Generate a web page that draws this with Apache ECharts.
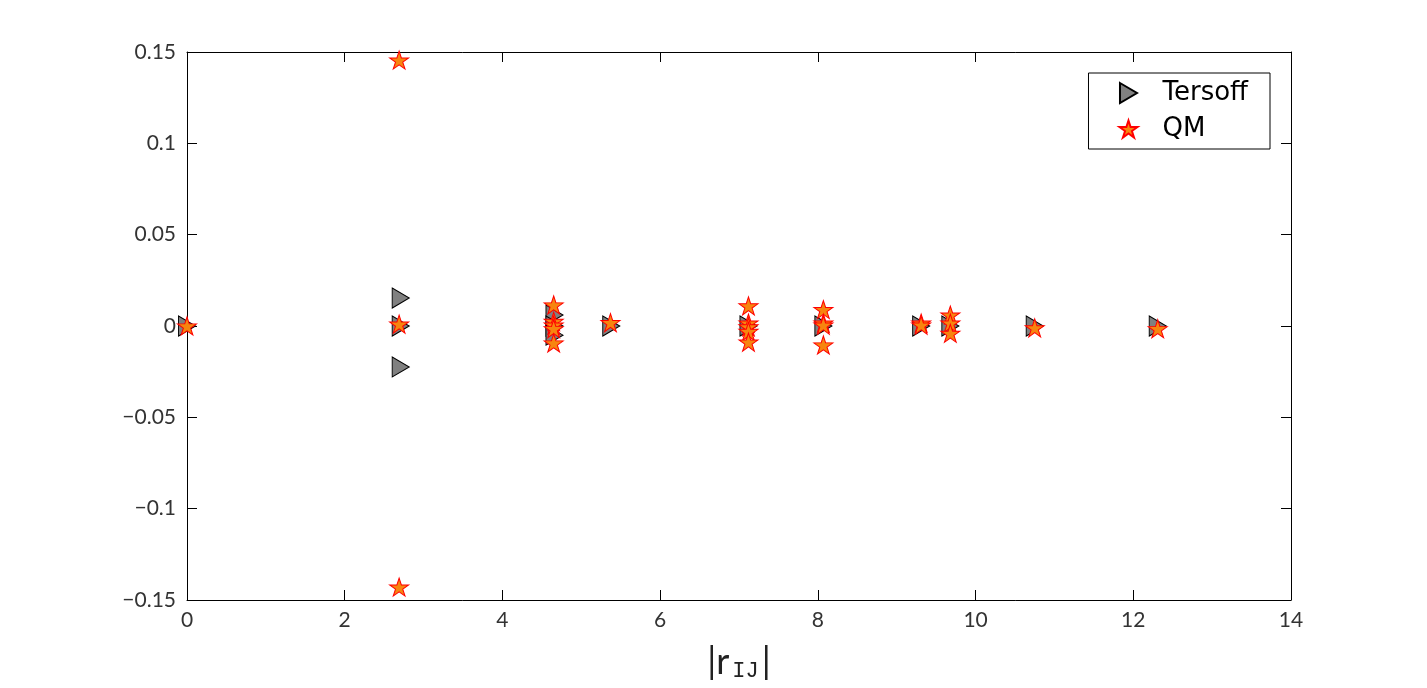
<!DOCTYPE html>
<html>
<head>
<meta charset="utf-8">
<script src="https://cdn.jsdelivr.net/npm/echarts@6/dist/echarts.min.js"></script>
<style>
  html, body { margin: 0; padding: 0; background: #fff; }
  #chart { width: 1427px; height: 688px; }
</style>
</head>
<body>
<div id="chart"></div>
<script>
// Tersoff points
var tersoffX = [0, 2.71, 2.71, 2.71, 4.66, 4.66, 4.66, 5.38, 7.12, 8.07, 9.31, 9.68, 10.75, 12.31];
var tersoffY = [0, 0.0153, 0, -0.0224, 0.006, 0, -0.005, 0, 0, 0, 0, 0, 0, 0];

// QM points
var qmX = [0, 2.69, 2.69, 2.69, 4.65, 4.65, 4.65, 4.65, 4.65, 5.37,
           7.12, 7.12, 7.12, 7.12, 7.12, 8.07, 8.07, 8.07, 8.07,
           9.31, 9.31, 9.68, 9.68, 9.68, 10.75, 12.31];
var qmY = [0, 0.1456, -0.1429, 0.001, 0.0115, 0.0025, 0.0005, -0.0015, -0.0093, 0.0018,
           0.011, 0.0016, -0.0005, -0.003, -0.0088, 0.009, 0.0016, 0.0005, -0.0104,
           0.0016, 0.0005, 0.006, 0.0016, -0.004, -0.001, -0.0015];

var triPath = 'path://M0,0L17,10L0,20Z';
var starPath = 'path://M0,-1L0.2245,-0.309L0.951,-0.309L0.363,0.118L0.588,0.809L0,0.382L-0.588,0.809L-0.363,0.118L-0.951,-0.309L-0.2245,-0.309Z';

function pairs(xs, ys) {
    var out = [];
    for (var i = 0; i < xs.length; i++) out.push([xs[i], ys[i]]);
    return out;
}

var font = 'Lato';
var chart = echarts.init(document.getElementById('chart'));

chart.setOption({
    animation: false,
    grid: { left: 187, right: 136, top: 52, bottom: 88 },
    legend: {
        orient: 'vertical',
        right: 157,
        top: 73,
        padding: [7, 22, 7, 30],
        itemGap: 10,
        itemWidth: 18,
        itemHeight: 20,
        borderColor: '#000',
        borderWidth: 1,
        textStyle: { fontFamily: 'DejaVu Sans', fontSize: 26, color: '#000', padding: [0, 0, 0, 20] },
        data: [
            { name: 'Tersoff', icon: triPath },
            { name: 'QM', icon: starPath }
        ]
    },
    xAxis: [{
        type: 'value', min: 0, max: 14, interval: 2,
        name: '{a||r}{b|IJ}{a||}',
        nameLocation: 'middle', nameGap: 42,
        nameTextStyle: {
            rich: {
                a: { fontFamily: font, fontSize: 36, color: '#222' },
                b: { fontFamily: 'Liberation Mono', fontSize: 22, color: '#222', padding: [18, 3, 0, 3] }
            }
        },
        axisLine: { onZero: false, lineStyle: { color: '#000', width: 1 } },
        axisTick: { inside: true, length: 10, lineStyle: { color: '#000' } },
        axisLabel: { fontFamily: font, fontSize: 21, color: '#333', margin: 10 },
        splitLine: { show: false }
    }, {
        type: 'value', position: 'top', min: 0, max: 14, interval: 2,
        axisLine: { show: true, onZero: false, lineStyle: { color: '#000', width: 1 } },
        axisTick: { inside: true, length: 10, lineStyle: { color: '#000' } },
        axisLabel: { show: false },
        splitLine: { show: false }
    }],
    yAxis: [{
        type: 'value', min: -0.15, max: 0.15, interval: 0.05,
        axisLine: { onZero: false, lineStyle: { color: '#000', width: 1 } },
        axisTick: { inside: true, length: 10, lineStyle: { color: '#000' } },
        axisLabel: {
            fontFamily: font, fontSize: 21, color: '#333', margin: 11,
            formatter: function (v) {
                var s = String(+v.toFixed(2));
                return s.replace('-', '\u2212');
            }
        },
        splitLine: { show: false }
    }, {
        type: 'value', position: 'right', min: -0.15, max: 0.15, interval: 0.05,
        axisLine: { show: true, onZero: false, lineStyle: { color: '#000', width: 1 } },
        axisTick: { inside: true, length: 10, lineStyle: { color: '#000' } },
        axisLabel: { show: false },
        splitLine: { show: false }
    }],
    series: [{
        name: 'Tersoff',
        type: 'scatter',
        symbol: triPath,
        symbolSize: [17, 20],
        itemStyle: { color: '#808080', borderColor: '#000', borderWidth: 1, opacity: 1 },
        data: pairs(tersoffX, tersoffY),
        z: 2
    }, {
        name: 'QM',
        type: 'scatter',
        symbol: starPath,
        symbolSize: [19, 18],
        itemStyle: { color: '#F7850F', borderColor: '#FF0000', borderWidth: 1, opacity: 1 },
        data: pairs(qmX, qmY),
        z: 3
    }]
});
</script>
</body>
</html>
